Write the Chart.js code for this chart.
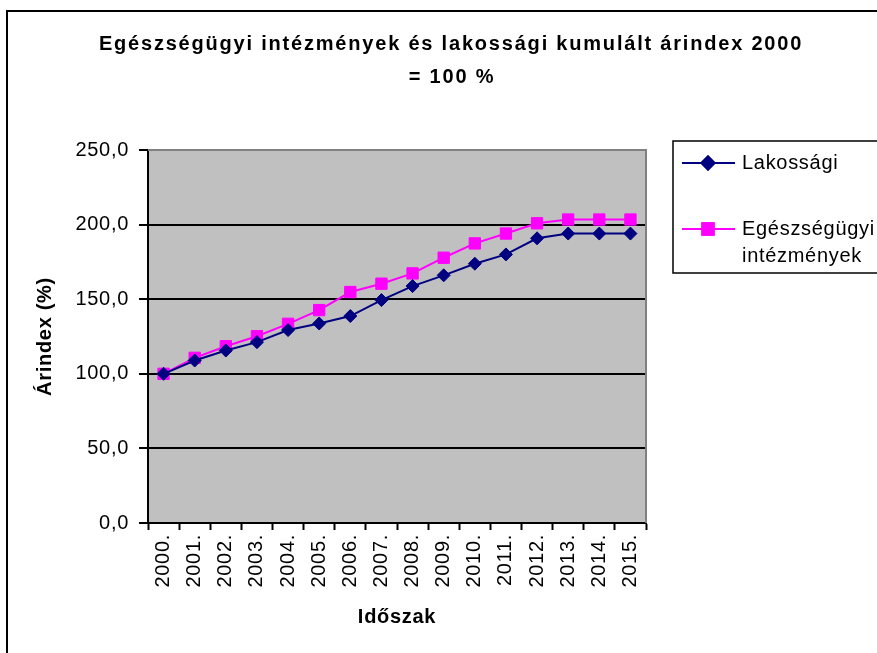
<!DOCTYPE html>
<html>
<head>
<meta charset="utf-8">
<script src="https://cdn.jsdelivr.net/npm/chart.js@4/dist/chart.umd.min.js"></script>
<style>
  html, body { margin: 0; padding: 0; background: #ffffff; }
  #wrap { width: 877px; height: 653px; position: relative; }
</style>
</head>
<body>
<div id="wrap"><canvas id="c" width="877" height="653"></canvas></div>
<script>
const titleLines = ['Egészségügyi intézmények és lakossági kumulált árindex 2000', '= 100 %'];
const categories = ['2000.', '2001.', '2002.', '2003.', '2004.', '2005.', '2006.', '2007.', '2008.', '2009.', '2010.', '2011.', '2012.', '2013.', '2014.', '2015.'];
const lakossagi = [100.0, 108.9, 115.6, 121.2, 129.3, 133.7, 138.7, 149.4, 158.8, 166.0, 173.8, 180.0, 190.8, 194.0, 194.0, 194.0];
const egeszsegugyi = [100.0, 110.7, 118.5, 125.2, 133.5, 142.7, 154.8, 160.4, 167.3, 177.8, 187.4, 194.0, 200.9, 203.4, 203.4, 203.4];
const seriesNames = ['Lakossági', ['Egészségügyi', 'intézmények']];
const yTitle = 'Árindex (%)';
const xTitle = 'Időszak';
const yMin = 0, yMax = 250, yStep = 50;

const FONT = '"Liberation Sans", Arial, sans-serif';
const NAVY = '#000080';
const MAGENTA = '#FF00FF';

const decor = {
  id: 'decor',
  beforeDraw(chart) {
    const ctx = chart.ctx;
    const a = chart.chartArea;
    ctx.save();
    ctx.fillStyle = '#ffffff';
    ctx.fillRect(0, 0, chart.width, chart.height);
    ctx.fillStyle = '#C0C0C0';
    ctx.fillRect(a.left, a.top, a.right - a.left, a.bottom - a.top);
    ctx.restore();
    ctx.letterSpacing = '0.7px';
  },
  beforeDatasetsDraw(chart) {
    const ctx = chart.ctx;
    const a = chart.chartArea;
    ctx.save();
    ctx.strokeStyle = '#808080';
    ctx.lineWidth = 2;
    ctx.beginPath();
    ctx.moveTo(a.left, a.top);
    ctx.lineTo(a.right, a.top);
    ctx.lineTo(a.right, a.bottom);
    ctx.stroke();
    ctx.restore();
  },
  afterDraw(chart) {
    const ctx = chart.ctx;
    ctx.save();
    // outer border
    ctx.strokeStyle = '#000000';
    ctx.lineWidth = 2;
    ctx.strokeRect(7, 11, 900, 700);
    // title
    ctx.letterSpacing = '1.8px';
    ctx.fillStyle = '#000000';
    ctx.font = 'bold 20px ' + FONT;
    ctx.textAlign = 'center';
    ctx.textBaseline = 'middle';
    ctx.fillText(titleLines[0], 451, 44);
    ctx.fillText(titleLines[1], 452, 77);
    // legend
    ctx.letterSpacing = '0.7px';
    ctx.lineWidth = 1.5;
    ctx.strokeStyle = '#000000';
    ctx.strokeRect(673, 141, 240, 132);
    const entries = [
      { ds: chart.data.datasets[0], y: 163, lines: [seriesNames[0]] },
      { ds: chart.data.datasets[1], y: 229, lines: seriesNames[1] }
    ];
    ctx.font = '20px ' + FONT;
    ctx.textAlign = 'left';
    entries.forEach(e => {
      ctx.strokeStyle = e.ds.borderColor;
      ctx.lineWidth = 2;
      ctx.beginPath();
      ctx.moveTo(682, e.y);
      ctx.lineTo(735, e.y);
      ctx.stroke();
      Chart.helpers.drawPoint(ctx, {
        pointStyle: e.ds.pointStyle,
        radius: e.ds.pointRadius,
        borderWidth: 1,
        rotation: 0
      }, 708, e.y);
      ctx.fillStyle = e.ds.pointBackgroundColor;
      ctx.strokeStyle = e.ds.pointBorderColor;
      ctx.fill();
      ctx.stroke();
      ctx.fillStyle = '#000000';
      e.lines.forEach((t, i) => ctx.fillText(t, 742, e.y + i * 27));
    });
    ctx.restore();
  }
};

new Chart(document.getElementById('c'), {
  type: 'line',
  data: {
    labels: categories,
    datasets: [
      {
        label: 'Lakossági',
        data: lakossagi,
        borderColor: NAVY,
        backgroundColor: NAVY,
        pointBackgroundColor: NAVY,
        pointBorderColor: NAVY,
        borderWidth: 2,
        pointStyle: 'rectRot',
        pointRadius: 6.5,
        pointBorderWidth: 1,
        tension: 0
      },
      {
        label: 'Egészségügyi intézmények',
        data: egeszsegugyi,
        borderColor: MAGENTA,
        backgroundColor: MAGENTA,
        pointBackgroundColor: MAGENTA,
        pointBorderColor: MAGENTA,
        borderWidth: 2,
        pointStyle: 'rect',
        pointRadius: 8,
        pointBorderWidth: 1,
        tension: 0
      }
    ]
  },
  options: {
    responsive: false,
    animation: false,
    devicePixelRatio: 1,
    layout: { padding: { left: 0, top: 150, right: 231, bottom: 0 } },
    plugins: {
      legend: { display: false },
      title: { display: false },
      tooltip: { enabled: false }
    },
    scales: {
      x: {
        type: 'category',
        offset: true,
        grid: {
          offset: true,
          drawOnChartArea: false,
          drawTicks: true,
          tickLength: 7,
          tickColor: '#000000',
          tickWidth: 2
        },
        border: { display: true, color: '#000000', width: 2 },
        ticks: {
          color: '#000000',
          font: { family: FONT, size: 20 },
          minRotation: 90,
          maxRotation: 90,
          padding: 4,
          autoSkip: false
        },
        title: {
          display: true,
          text: xTitle,
          color: '#000000',
          font: { family: FONT, size: 20, weight: 'bold' },
          padding: { top: 0, bottom: 24 }
        },
        afterFit(scale) { scale.height = 130; }
      },
      y: {
        min: yMin,
        max: yMax,
        ticks: {
          stepSize: yStep,
          color: '#000000',
          font: { family: FONT, size: 20 },
          padding: 10,
          callback: v => v.toFixed(1).replace('.', ',')
        },
        grid: {
          color: ctx => (ctx.tick && ctx.tick.value === yMax ? '#808080' : '#000000'),
          lineWidth: 2,
          tickLength: 9,
          tickColor: '#000000',
          tickWidth: 2
        },
        border: { display: true, color: '#000000', width: 2 },
        title: {
          display: true,
          text: yTitle,
          color: '#000000',
          font: { family: FONT, size: 20, weight: 'bold' },
          padding: { top: 33, bottom: 0 }
        },
        afterFit(scale) { scale.width = 148; }
      }
    }
  },
  plugins: [decor]
});
</script>
</body>
</html>
